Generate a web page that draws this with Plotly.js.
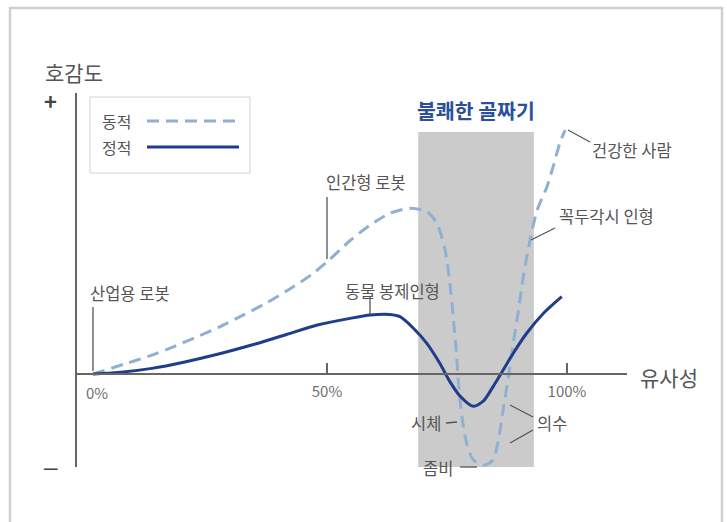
<!DOCTYPE html>
<html>
<head>
<meta charset="utf-8">
<script src="https://cdn.plot.ly/plotly-3.0.1.min.js"></script>
<style>html,body{margin:0;padding:0;background:#fff;}#chart{width:727px;height:522px;}</style>
</head>
<body>
<div id="chart"></div>
<script>
// ---- data (similarity %, affinity in arbitrary units) ----
const dynamicX = [1.25, 7.9, 12.8, 17.6, 22.5, 27.4, 32.2, 37.2, 42, 46.8, 50.4, 54.8, 59, 63.1, 67.3, 70.8, 72.9, 74.6, 75.6, 76.3, 76.9, 77.4, 78.1, 79.1, 80.5, 82.6, 84.6, 85.7, 86.7, 87.8, 88.8, 89.9, 90.9, 92.3, 93.8, 95.8, 97.1, 98.5, 99.6];
const dynamicY = [0, 3.6, 6.3, 9.4, 12.9, 16.6, 20.7, 25.1, 30, 35.4, 40.5, 47.5, 53, 57.2, 59, 57.8, 53.6, 44.1, 32.3, 20.4, 8.5, -3.3, -15.2, -24.7, -30.6, -32.5, -30.6, -23.5, -12.8, -1, 10.9, 22.8, 34.6, 47.7, 58.4, 66.5, 73.7, 82.2, 86.8];
const staticX = [1.25, 6.5, 13.5, 20.4, 27.4, 34.3, 41.25, 48.2, 54.8, 59, 63.1, 65.2, 68, 70.8, 73.5, 75.6, 77.7, 80.5, 82.6, 84.6, 86.7, 88.8, 91.6, 95.1, 98.9];
const staticY = [0, 0.5, 2.0, 4.3, 7.1, 10.3, 13.9, 17.5, 19.8, 21.0, 21.2, 20.4, 16.3, 10.9, 3.8, -2.7, -7.8, -11.5, -9.6, -4.5, 1.4, 7.4, 14.5, 21.6, 27.5];
const seriesNames = ['동적', '정적'];
const tickVals = [0, 50, 100];
const tickLabels = ['0%', '50%', '100%'];
const valleyRange = [69, 93.1];
const valleyTop = [86.1];
const valleyTitle = '불쾌한 골짜기';
const pointLabels = ['산업용 로봇', '인간형 로봇', '동물 봉제인형', '건강한 사람', '꼭두각시 인형', '시체', '좀비', '의수'];
const axisTitles = ['유사성', '호감도'];

// ---- layout helpers (pixel -> paper) ----
const L = 77, R = 627, T = 93, B = 467;
const X = px => (px - L) / (R - L);
const Y = py => (B - py) / (B - T);
const FONT = '"Noto Sans CJK KR", "Noto Sans", sans-serif';
const GRAY = '#555555';
const DYN = '#8fb0d3', STA = '#1f3d8a';

function txt(text, px, py, xa, size, color, extra) {
  return Object.assign({
    text: text, xref: 'paper', yref: 'paper', x: X(px), y: Y(py),
    xanchor: xa, yanchor: 'middle', showarrow: false,
    font: {family: FONT, size: size, color: color}
  }, extra || {});
}
function seg(x0, y0, x1, y1, color, width, dash) {
  return {type: 'line', xref: 'paper', yref: 'paper', x0: X(x0), y0: Y(y0), x1: X(x1), y1: Y(y1),
    line: {color: color, width: width, dash: dash || 'solid'}};
}

const traces = [
  {x: dynamicX, y: dynamicY, name: seriesNames[0], mode: 'lines', type: 'scatter',
   line: {color: DYN, width: 3, dash: '12px,7px', shape: 'spline', smoothing: 0.7}, hoverinfo: 'skip'},
  {x: staticX, y: staticY, name: seriesNames[1], mode: 'lines', type: 'scatter',
   line: {color: STA, width: 3, shape: 'spline', smoothing: 0.7}, hoverinfo: 'skip'}
];

const shapes = [
  // outer frame
  {type: 'rect', xref: 'paper', yref: 'paper', x0: X(10), x1: X(722), y0: Y(8), y1: Y(540),
   line: {color: '#cfcfcf', width: 2.5}, fillcolor: 'rgba(0,0,0,0)', layer: 'below'},
  // uncanny valley band
  {type: 'rect', xref: 'x', yref: 'paper', x0: valleyRange[0], x1: valleyRange[1], y0: 0, y1: Y(374 - valleyTop[0] * 2.81),
   line: {width: 0}, fillcolor: '#cbcbcb', layer: 'below'},
  // legend box
  {type: 'rect', xref: 'paper', yref: 'paper', x0: X(90), x1: X(250), y0: Y(97), y1: Y(173),
   line: {color: '#d2d2d2', width: 1}, fillcolor: '#ffffff', layer: 'above'},
  seg(147, 121, 239, 121, DYN, 3, '12px,7px'),
  seg(147, 147, 239, 147, STA, 3),
  // leaders
  seg(93, 307, 93, 371, '#555', 1.3),
  seg(327, 197, 327, 259, '#555', 1.3),
  seg(370, 297, 370, 314, '#555', 1.3),
  seg(568, 130, 590, 142, '#555', 1.3),
  seg(531, 240, 555, 228, '#555', 1.3),
  seg(446, 423, 457, 422, '#555', 1.3),
  seg(460, 467, 477, 467, '#555', 1.3),
  seg(510, 405, 533, 417, '#555', 1.3),
  seg(510, 443, 533, 430, '#555', 1.3)
];

const annotations = [
  txt(valleyTitle, 476, 110, 'center', 20.5, '#2b4f9e', {text: '<b>' + valleyTitle + '</b>'}),
  txt(axisTitles[1], 43, 72, 'left', 21, GRAY),
  txt(axisTitles[0], 638, 377, 'left', 21, GRAY),
  txt('<b>+</b>', 50, 100, 'center', 22, '#444'),
  txt('<b>—</b>', 50, 466, 'center', 17, '#444'),
  txt(seriesNames[0], 100, 121, 'left', 16, GRAY),
  txt(seriesNames[1], 100, 147, 'left', 16, GRAY),
  txt(tickLabels[0], 97, 392, 'center', 15, '#707070'),
  txt(pointLabels[0], 88, 293, 'left', 16.5, GRAY),
  txt(pointLabels[1], 366, 182, 'center', 16.5, GRAY),
  txt(pointLabels[2], 392, 291, 'center', 16.5, GRAY),
  txt(pointLabels[3], 590, 150, 'left', 16.5, GRAY),
  txt(pointLabels[4], 557, 216, 'left', 16.5, GRAY),
  txt(pointLabels[5], 443, 423, 'right', 16.5, GRAY),
  txt(pointLabels[6], 455, 468, 'right', 16.5, GRAY),
  txt(pointLabels[7], 535, 423, 'left', 16.5, GRAY)
];

const layout = {
  width: 727, height: 522,
  margin: {l: L, r: 727 - R, t: T, b: 522 - B, pad: 0},
  paper_bgcolor: '#ffffff', plot_bgcolor: 'rgba(0,0,0,0)',
  showlegend: false,
  font: {family: FONT},
  xaxis: {range: [(L - 87) / 4.8, (R - 87) / 4.8], anchor: 'free', position: Y(374),
    showline: true, linecolor: '#666', linewidth: 2, zeroline: false, showgrid: false,
    ticks: 'inside', ticklen: 10, tickwidth: 1.5, tickcolor: '#666',
    tickvals: tickVals.slice(1), ticktext: tickLabels.slice(1), ticklabelstandoff: 4,
    tickfont: {family: FONT, size: 15, color: '#707070'}, fixedrange: true},
  yaxis: {range: [-(B - 374) / 2.81, (374 - T) / 2.81], showline: true, linecolor: '#666', linewidth: 2,
    zeroline: false, showgrid: false, showticklabels: false, ticks: '', fixedrange: true},
  shapes: shapes,
  annotations: annotations
};

Plotly.newPlot('chart', traces, layout, {staticPlot: true, displayModeBar: false});
</script>
</body>
</html>
